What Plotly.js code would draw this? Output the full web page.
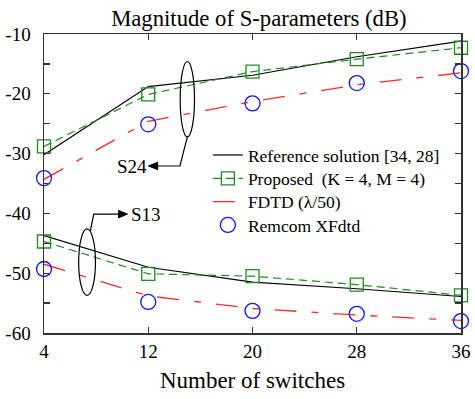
<!DOCTYPE html>
<html>
<head>
<meta charset="utf-8">
<script src="https://cdn.plot.ly/plotly-3.0.1.min.js"></script>
<style>
  html, body { margin: 0; padding: 0; background: #fff; }
  #chart { width: 475px; height: 399px; }
</style>
</head>
<body>
<div id="chart"></div>
<script>
// Number of switches on the x axis
const switches = [4, 12, 20, 28, 36];

// S24 magnitude (dB)
const refS24  = [-30.2, -18.8, -16.9, -13.8, -11.2];
const propS24 = [-28.8, -20.1, -16.3, -14.2, -12.3];
const fdtdS24 = [-34.3, -24.6, -21.3, -18.5, -16.5];
const remS24  = [-34.1, -25.1, -21.6, -18.2, -16.2];

// S13 magnitude (dB)
const refS13  = [-43.7, -49.0, -51.5, -52.6, -53.9];
const propS13 = [-44.7, -50.1, -50.5, -51.9, -53.7];
const fdtdS13 = [-48.5, -53.8, -55.9, -57.0, -57.9];
const remS13  = [-49.3, -54.8, -56.3, -56.8, -58.0];

// y tick positions and their labels (plain hyphen as minus sign)
const yTickVals = [-60, -50, -40, -30, -20, -10];
const yTickText = ['-60', '-50', '-40', '-30', '-20', '-10'];

const seriesNames = [
  'Reference solution [34, 28]',
  'Proposed  (K = 4, M = 4)',
  'FDTD (\u03bb/50)',
  'Remcom XFdtd'
];

const GREEN = '#1f8a1f', RED = '#ff2a2a', BLUE = '#1010ff';
const FONT = 'Liberation Serif, Times New Roman, serif';

function refTrace(y, show) {
  return { x: switches, y: y, mode: 'lines', name: seriesNames[0],
    legend: 'legend', legendgroup: 'ref', showlegend: show,
    line: { color: '#000', width: 1.2 } };
}
function propTrace(y, show) {
  return { x: switches, y: y, mode: 'lines+markers', name: seriesNames[1],
    legend: 'legend2', legendgroup: 'prop', showlegend: show,
    line: { color: GREEN, width: 1.2, dash: '8px,5px' },
    marker: { symbol: 'square-open', size: 13, color: GREEN, line: { width: 1.3, color: GREEN } } };
}
function fdtdTrace(y, show) {
  return { x: switches, y: y, mode: 'lines', name: seriesNames[2],
    legend: 'legend3', legendgroup: 'fdtd', showlegend: show,
    line: { color: RED, width: 1.3, dash: '22px,15px,7px,15px' } };
}
function remTrace(y, show) {
  return { x: switches, y: y, mode: 'markers', name: seriesNames[3],
    legend: 'legend4', legendgroup: 'rem', showlegend: show,
    marker: { symbol: 'circle-open', size: 15, color: BLUE, line: { width: 1.3, color: BLUE } } };
}

const traces = [
  refTrace(refS24, true), propTrace(propS24, true), fdtdTrace(fdtdS24, true), remTrace(remS24, true),
  refTrace(refS13, false), propTrace(propS13, false), fdtdTrace(fdtdS13, false), remTrace(remS13, false)
];
traces.forEach(t => { t.cliponaxis = false; });

// Ellipses grouping the curves, with elbow arrows pointing to their labels
const shapes = [
  { type: 'circle', xref: 'x', yref: 'y', x0: 14.45, x1: 15.55, y0: -14.6, y1: -27.2,
    line: { color: '#000', width: 1.2 } },
  { type: 'path', xref: 'x', yref: 'y', path: 'M 15.0 -27.25 L 14.43 -32.07 L 12.6 -32.07',
    line: { color: '#000', width: 1.2 } },
  { type: 'path', xref: 'x', yref: 'y', path: 'M 12.02 -32.07 L 12.72 -31.45 L 12.72 -32.69 Z',
    fillcolor: '#000', line: { color: '#000', width: 1 } },
  { type: 'circle', xref: 'x', yref: 'y', x0: 6.66, x1: 7.95, y0: -42.6, y1: -53.7,
    line: { color: '#000', width: 1.2 } },
  { type: 'path', xref: 'x', yref: 'y', path: 'M 7.56 -42.9 L 7.82 -40.12 L 9.8 -40.12',
    line: { color: '#000', width: 1.2 } },
  { type: 'path', xref: 'x', yref: 'y', path: 'M 10.41 -40.12 L 9.72 -39.5 L 9.72 -40.74 Z',
    fillcolor: '#000', line: { color: '#000', width: 1 } }
];

const annotations = [
  { x: 10.79, y: -32.1, xref: 'x', yref: 'y', text: 'S24', showarrow: false,
    font: { family: FONT, size: 19, color: '#000' } },
  { x: 11.85, y: -40.1, xref: 'x', yref: 'y', text: 'S13', showarrow: false,
    font: { family: FONT, size: 19, color: '#000' } }
];

const axisCommon = {
  showgrid: false, zeroline: false, showline: true, linecolor: '#333', linewidth: 1.5,
  mirror: 'ticks', ticks: 'inside', ticklen: 6, tickwidth: 1.3, tickcolor: '#333',
  tickfont: { family: FONT, size: 19, color: '#000' }
};

// one single-entry legend per row, so the rows sit at a tight spacing
function legendRow(y) {
  return { x: 0.393, y: y, xanchor: 'left', yanchor: 'middle',
    bgcolor: 'rgba(0,0,0,0)', borderwidth: 0, itemwidth: 30,
    font: { family: FONT, size: 17.5, color: '#000' } };
}

const layout = {
  width: 475, height: 399,
  margin: { l: 44, r: 14, t: 34, b: 66 },
  paper_bgcolor: '#fff', plot_bgcolor: '#fff',
  font: { family: FONT, color: '#000' },
  title: { text: 'Magnitude of S-parameters (dB)', x: 0.545, xanchor: 'center',
    yref: 'container', y: 0.955, yanchor: 'middle',
    font: { family: FONT, size: 22.7, color: '#000' } },
  xaxis: Object.assign({}, axisCommon, {
    range: [4, 36], tickvals: switches, ticklabelstandoff: 1,
    title: { text: 'Number of switches', standoff: 10, font: { family: FONT, size: 23, color: '#000' } }
  }),
  yaxis: Object.assign({}, axisCommon, {
    range: [-60, -10], tickvals: yTickVals, ticktext: yTickText, ticklabelstandoff: 8,
    minor: { dtick: 5, ticks: 'inside', ticklen: 6, tickwidth: 1.3, tickcolor: '#333' }
  }),
  showlegend: true,
  legend: legendRow(0.595),
  legend2: legendRow(0.517),
  legend3: legendRow(0.439),
  legend4: legendRow(0.361),
  shapes: shapes,
  annotations: annotations
};

Plotly.newPlot('chart', traces, layout, { displayModeBar: false, staticPlot: true });
</script>
</body>
</html>
